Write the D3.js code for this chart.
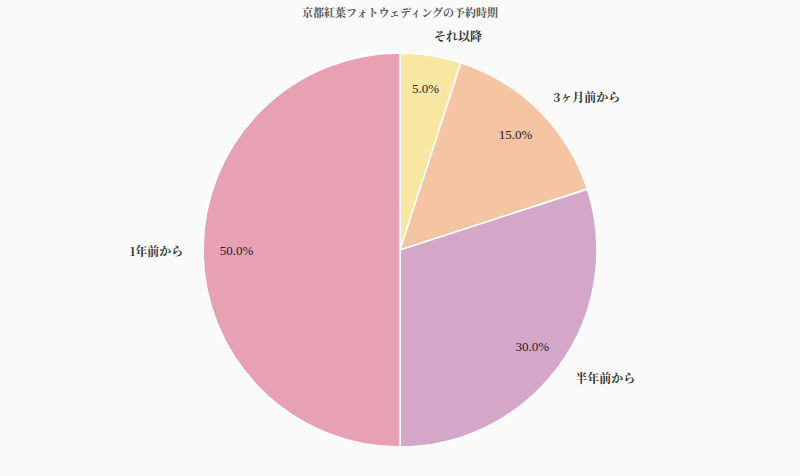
<!DOCTYPE html>
<html>
<head>
<meta charset="utf-8">
<script src="https://cdn.jsdelivr.net/npm/d3@7"></script>
<style>
body{margin:0;background:#fafafa;}
svg{display:block;}
</style>
</head>
<body>
<div id="chart"></div>
<script>
// data, clockwise from 12 o'clock
var categories = ['それ以降', '3ヶ月前から', '半年前から', '1年前から'];
var shares = [5, 15, 30, 50];
var colors = ['#f8e7a1', '#f5c5a3', '#d4a7c8', '#e8a1b3'];
var title = '京都紅葉フォトウェディングの予約時期';

var W = 800, H = 476;
var cx = 400, cy = 250, R = 197;
var fontJP = "'Noto Serif CJK JP','Noto Sans CJK JP','DejaVu Serif',serif";
var fontNum = "'Liberation Serif','DejaVu Serif',serif";

var svg = d3.select('#chart').append('svg')
	.attr('width', W)
	.attr('height', H)
	.style('background', '#fafafa');

svg.append('text')//title
	.attr('x', W/2)
	.attr('y', 17)
	.attr('text-anchor', 'middle')
	.attr('font-family', fontJP)
	.attr('font-size', 11)
	.attr('font-weight', 'bold')
	.attr('fill', '#555')
	.text(title);

var pie = d3.pie().sort(null).value(function(d){ return d; });
var arcs = pie(shares);
var arc = d3.arc().innerRadius(0).outerRadius(R);

var g = svg.append('g').attr('transform', 'translate(' + cx + ',' + cy + ')');

g.selectAll('path.slice')
	.data(arcs)
	.enter().append('path')
	.attr('class', 'slice')
	.attr('d', arc)
	.attr('fill', function(d, i){ return colors[i]; })
	.attr('stroke', '#fff')
	.attr('stroke-width', 1.6);

function mid(d){ return (d.startAngle + d.endAngle)/2; }

// percent labels
g.selectAll('text.pct')
	.data(arcs)
	.enter().append('text')
	.attr('class', 'pct')
	.attr('x', function(d){ return Math.sin(mid(d)) * R * 0.83; })
	.attr('y', function(d){ return -Math.cos(mid(d)) * R * 0.83; })
	.attr('text-anchor', 'middle')
	.attr('dominant-baseline', 'central')
	.attr('font-family', fontNum)
	.attr('font-size', 13)
	.attr('fill', '#222')
	.text(function(d){ return d.data.toFixed(1) + '%'; });

// category labels
g.selectAll('text.cat')
	.data(arcs)
	.enter().append('text')
	.attr('class', 'cat')
	.attr('x', function(d){ return Math.sin(mid(d)) * R * 1.1; })
	.attr('y', function(d){ return -Math.cos(mid(d)) * R * 1.1; })
	.attr('text-anchor', function(d){
		return Math.sin(mid(d)) >= 0 ? 'start' : 'end';
	})
	.attr('dominant-baseline', 'central')
	.attr('font-family', fontJP)
	.attr('font-size', 12)
	.attr('font-weight', 'bold')
	.attr('fill', '#333')
	.text(function(d, i){ return categories[i]; });
</script>
</body>
</html>
